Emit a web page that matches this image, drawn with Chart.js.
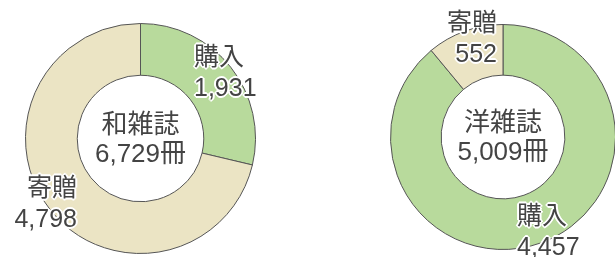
<!DOCTYPE html>
<html lang="ja">
<head>
<meta charset="utf-8">
<script src="https://cdn.jsdelivr.net/npm/chart.js@4"></script>
<style>
  html, body { margin: 0; padding: 0; background: #fff; }
  body { width: 615px; height: 257px; position: relative; overflow: hidden;
         font-family: "Liberation Sans", "Noto Sans CJK JP", sans-serif; color: #444; }
  .box { position: absolute; }
  .lbl { position: absolute; font-size: 25px; line-height: 31px; white-space: nowrap;
         text-shadow: 0 0 2px #fff, 1px 1px 0 #fff, -1px -1px 0 #fff, 1px -1px 0 #fff, -1px 1px 0 #fff,
                      2px 0 0 #fff, -2px 0 0 #fff, 0 2px 0 #fff, 0 -2px 0 #fff; }
  .mid { position: absolute; left: 0; right: 0; top: 50%; transform: translateY(-50%);
         text-align: center; font-size: 26px; line-height: 29px; }
</style>
</head>
<body>
<div class="box" id="box-wa" style="left:25px; top:23px; width:231px; height:231px;"><canvas id="chart-wa"></canvas></div>
<div class="box" id="box-yo" style="left:390px; top:24px; width:226px; height:226px;"><canvas id="chart-yo"></canvas></div>
<div id="labels"></div>
<script>
// --- Data ---
const categories = ['購入', '寄贈'];
const titles     = ['和雑誌', '洋雑誌'];
const waValues   = [1931, 4798];
const yoValues   = [4457, 552];
const unit = '冊';

const sliceColors = ['#b8da9c', '#ebe4c4'];
const fmt = n => n.toLocaleString('en-US');

// label placement per chart (text layout only)
const labelSpots = {
    wa: [
        { left: 194, top: 41, align: 'left' },
        { right: 538, top: 172, align: 'right' }
    ],
    yo: [
        { left: 517, top: 200, align: 'left' },
        { right: 118, top: 7, align: 'right' }
    ]
};

function drawDonut(canvasId, boxId, values, title, spots) {
    const canvas = document.getElementById(canvasId);
    new Chart(canvas, {
        type: 'doughnut',
        data: {
            labels: categories,
            datasets: [{
                data: values,
                backgroundColor: sliceColors,
                borderColor: '#555',
                borderWidth: 1,
                hoverOffset: 0
            }]
        },
        options: {
            responsive: true,
            maintainAspectRatio: false,
            animation: false,
            cutout: '55%',
            layout: { padding: 0 },
            plugins: { legend: { display: false }, tooltip: { enabled: false } }
        }
    });

    // centre text
    const box = document.getElementById(boxId);
    const total = values.reduce((a, b) => a + b, 0);
    const mid = document.createElement('div');
    mid.className = 'mid';
    mid.innerHTML = title + '<br>' + fmt(total) + unit;
    box.appendChild(mid);

    // slice labels
    const layer = document.getElementById('labels');
    values.forEach((v, i) => {
        const s = spots[i];
        const el = document.createElement('div');
        el.className = 'lbl';
        el.style.top = s.top + 'px';
        if (s.left !== undefined) el.style.left = s.left + 'px';
        if (s.right !== undefined) el.style.right = s.right + 'px';
        el.style.textAlign = s.align;
        el.innerHTML = categories[i] + '<br>' + fmt(v);
        layer.appendChild(el);
    });
}

drawDonut('chart-wa', 'box-wa', waValues, titles[0], labelSpots.wa);
drawDonut('chart-yo', 'box-yo', yoValues, titles[1], labelSpots.yo);
</script>
</body>
</html>
